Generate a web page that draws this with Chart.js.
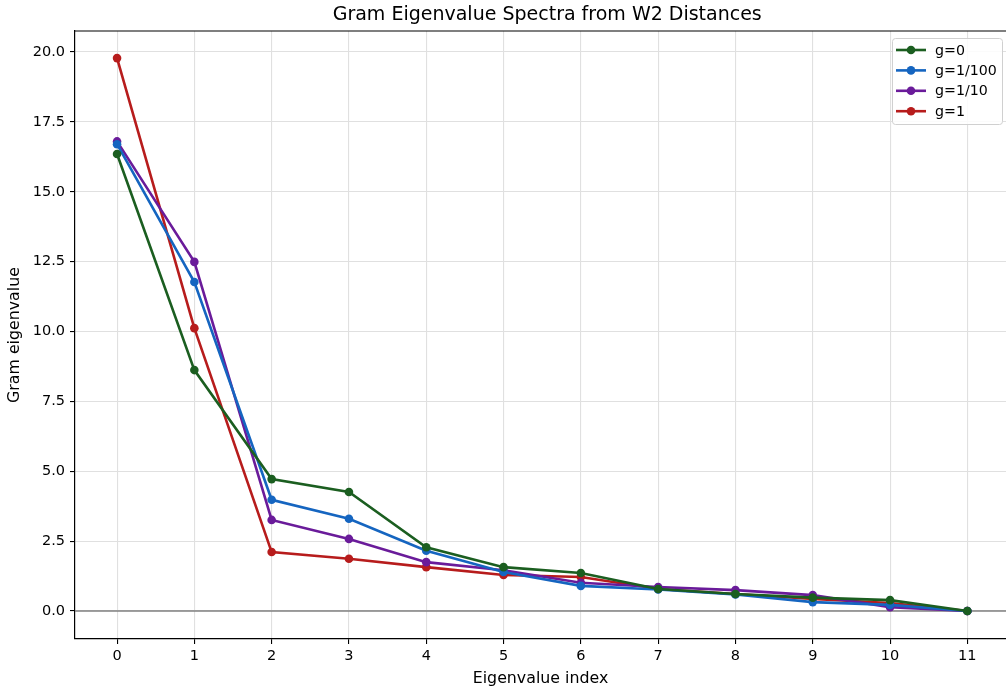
<!DOCTYPE html>
<html>
<head>
<meta charset="utf-8">
<script src="https://cdn.jsdelivr.net/npm/chart.js@4"></script>
<style>
  html, body { margin: 0; padding: 0; background: #fff; overflow: hidden; }
  canvas { display: block; }
</style>
</head>
<body>
<canvas id="spectra" width="1006" height="691"></canvas>
<script>
// eigenvalue index along x
const indices = [0, 1, 2, 3, 4, 5, 6, 7, 8, 9, 10, 11];
const seriesNames = ['g=0', 'g=1/100', 'g=1/10', 'g=1'];
const g0 = [16.35, 8.62, 4.72, 4.26, 2.28, 1.57, 1.36, 0.79, 0.61, 0.48, 0.39, 0.0];
const g100 = [16.70, 11.77, 3.98, 3.30, 2.16, 1.40, 0.90, 0.77, 0.59, 0.32, 0.22, 0.0];
const g10 = [16.80, 12.49, 3.26, 2.58, 1.75, 1.46, 1.01, 0.86, 0.75, 0.57, 0.14, 0.0];
const g1 = [19.78, 10.12, 2.11, 1.87, 1.57, 1.29, 1.22, 0.79, 0.61, 0.43, 0.29, 0.0];
const yTickValues = [0, 2.5, 5, 7.5, 10, 12.5, 15, 17.5, 20];
const lineColors = ['#1b5e20', '#1565c0', '#6a1b9a', '#b71c1c'];
const chartTitle = 'Gram Eigenvalue Spectra from W2 Distances';

const FONT = "'DejaVu Sans', sans-serif";

function toPoints(vals){
    return vals.map((v, i) => ({x: indices[i], y: v}));
}

var allSeries = [g0, g100, g10, g1];
var datasets = allSeries.map((vals, k) => ({
    label: seriesNames[k],
    data: toPoints(vals),
    borderColor: lineColors[k],
    backgroundColor: lineColors[k],
    borderWidth: 2.6,
    pointRadius: 4.3,
    pointHoverRadius: 4.3,
    pointBorderWidth: 0,
    tension: 0
}));

// title, top spine, zero reference line and boxed legend
const decorations = {
    id: 'decorations',
    beforeDatasetsDraw(chart){
        const ctx = chart.ctx;
        const a = chart.chartArea;
        const y0 = chart.scales.y.getPixelForValue(0);
        ctx.save();
        ctx.strokeStyle = '#808080';
        ctx.lineWidth = 1.6;
        ctx.beginPath();
        ctx.moveTo(a.left, y0);
        ctx.lineTo(a.right, y0);
        ctx.stroke();
        ctx.strokeStyle = '#000';
        ctx.lineWidth = 1.2;
        ctx.beginPath();
        ctx.moveTo(a.left, a.top);
        ctx.lineTo(a.right, a.top);
        ctx.stroke();
        // title centred over the full axes box (it runs past the right edge)
        const xs = chart.scales.x;
        const cx = (xs.getPixelForValue(-0.55) + xs.getPixelForValue(11.68)) / 2;
        ctx.fillStyle = '#000';
        ctx.font = '19px ' + FONT;
        ctx.textAlign = 'center';
        ctx.textBaseline = 'middle';
        ctx.fillText(chartTitle, cx, 15.5);
        ctx.restore();
    },
    afterDatasetsDraw(chart){
        const ctx = chart.ctx;
        ctx.save();
        const bx = 892, by = 38, bw = 110, bh = 86;
        ctx.fillStyle = 'rgba(255,255,255,0.85)';
        ctx.strokeStyle = '#d0d0d0';
        ctx.lineWidth = 1;
        ctx.beginPath();
        ctx.roundRect(bx + 0.5, by + 0.5, bw, bh, 3);
        ctx.fill();
        ctx.stroke();
        ctx.font = '14.2px ' + FONT;
        ctx.textBaseline = 'middle';
        chart.data.datasets.forEach((ds, k) => {
            const y = 50 + k * 20.4;
            ctx.strokeStyle = ds.borderColor;
            ctx.lineWidth = 2.6;
            ctx.beginPath();
            ctx.moveTo(896, y);
            ctx.lineTo(926, y);
            ctx.stroke();
            ctx.fillStyle = ds.borderColor;
            ctx.beginPath();
            ctx.arc(911, y, 4.3, 0, Math.PI * 2);
            ctx.fill();
            ctx.fillStyle = '#000';
            ctx.fillText(ds.label, 935, y + 1);
        });
        ctx.restore();
    }
};

new Chart(document.getElementById('spectra'), {
    type: 'line',
    data: {datasets: datasets},
    plugins: [decorations],
    options: {
        responsive: false,
        animation: false,
        layout: {autoPadding: false, padding: {left: 0, right: 0, top: 31, bottom: 0}},
        plugins: {
            legend: {display: false},
            tooltip: {enabled: false},
            title: {display: false}
        },
        scales: {
            x: {
                type: 'linear',
                min: -0.544,
                max: 11.5,
                afterBuildTicks(scale){
                    scale.ticks = indices.map(v => ({value: v}));
                },
                afterFit(scale){ scale.height = 52; },
                ticks: {
                    color: '#000',
                    font: {family: FONT, size: 14.5},
                    padding: 4,
                    maxRotation: 0,
                    callback: v => String(v)
                },
                grid: {color: '#e0e0e0', lineWidth: 1.1, tickColor: '#000', tickLength: 5, tickWidth: 1.1},
                border: {color: '#000', width: 1.2},
                title: {
                    display: true,
                    text: 'Eigenvalue index',
                    color: '#000',
                    font: {family: FONT, size: 15.8},
                    padding: {top: 0, bottom: 2.5}
                }
            },
            y: {
                type: 'linear',
                min: -1,
                max: 20.75,
                afterBuildTicks(scale){
                    scale.ticks = yTickValues.map(v => ({value: v}));
                },
                afterFit(scale){ scale.width = 75; },
                ticks: {
                    color: '#000',
                    font: {family: FONT, size: 14.5},
                    padding: 5,
                    callback: v => v.toFixed(1)
                },
                grid: {color: '#e0e0e0', lineWidth: 1.1, tickColor: '#000', tickLength: 5, tickWidth: 1.1},
                border: {color: '#000', width: 1.2},
                title: {
                    display: true,
                    text: 'Gram eigenvalue',
                    color: '#000',
                    font: {family: FONT, size: 15.8},
                    padding: {top: 5.5, bottom: 0}
                }
            }
        }
    }
});
</script>
</body>
</html>
